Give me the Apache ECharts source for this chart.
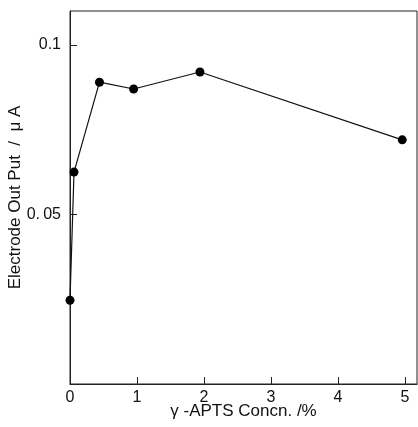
<html>

<script src="https://cdn.jsdelivr.net/npm/echarts@6/dist/echarts.min.js"></script>

<body style="margin:0;background:#fff">
    <div id="main" style="width:418px;height:427px;"></div>
</body>

</html>

<script>
    // values
    var concn = [0, 0.06, 0.44, 0.95, 1.94, 4.96];
    var output = [0.0247, 0.0625, 0.089, 0.087, 0.092, 0.072];
    var xTicks = [0, 1, 2, 3, 4, 5];
    var yTicks = [0.05, 0.1];

    var chartDom = document.getElementById('main');
    var myChart = echarts.init(chartDom);
    var font = 'Liberation Sans';

    var option = {
        animation: false,
        backgroundColor: '#fff',
        grid: {
            left: 70,
            right: 1,
            top: 11,
            bottom: 43,
            outerBoundsMode: 'none',
            show: true,
            borderColor: '#222',
            borderWidth: 1
        },
        xAxis: {
            type: 'value',
            min: 0,
            max: 5.18,
            name: 'γ -APTS Concn. /%',
            nameLocation: 'middle',
            nameGap: 19,
            nameMoveOverlap: false,
            nameTextStyle: { color: '#111', fontSize: 17, fontFamily: font },
            axisLine: { lineStyle: { color: '#222', width: 1 } },
            splitLine: { show: false },
            axisTick: { inside: true, length: 7, customValues: xTicks, lineStyle: { color: '#222' } },
            axisLabel: { customValues: xTicks, margin: 6, color: '#111', fontSize: 16, fontFamily: font }
        },
        yAxis: {
            type: 'value',
            min: 0,
            max: 0.11,
            name: 'Electrode Out Put  /  μ A',
            nameLocation: 'middle',
            nameGap: 46,
            nameMoveOverlap: false,
            nameTextStyle: { color: '#111', fontSize: 17, fontFamily: font },
            axisLine: { show: true, lineStyle: { color: '#222', width: 1 } },
            splitLine: { show: false },
            axisTick: { show: true, inside: true, length: 7, customValues: yTicks, lineStyle: { color: '#222' } },
            axisLabel: {
                customValues: yTicks,
                margin: 9,
                color: '#111',
                fontSize: 16,
                fontFamily: font,
                formatter: function (v) {
                    return v === 0.1 ? '0.1' : '0.\u200905';
                }
            }
        },
        series: [
            {
                type: 'line',
                data: concn.map(function (x, i) { return [x, output[i]]; }),
                symbol: 'circle',
                symbolSize: 9,
                showAllSymbol: true,
                itemStyle: { color: '#000' },
                lineStyle: { color: '#111', width: 1.2 }
            }
        ]
    };

    option && myChart.setOption(option);
</script>
